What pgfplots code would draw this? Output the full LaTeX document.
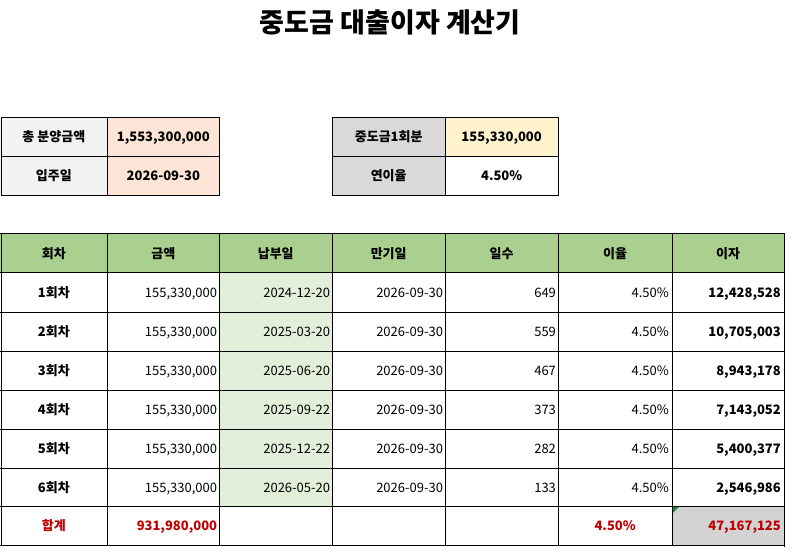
\documentclass[border=0pt]{standalone}
\usepackage{pgfplots}
\usepackage{pgfplotstable}
\pgfplotsset{compat=1.18}
\usepackage{fontspec}
\setmainfont{Noto Sans CJK KR}
\definecolor{hdr}{HTML}{A9D08E}
\definecolor{lgreen}{HTML}{E2EFDA}
\definecolor{lgray}{HTML}{F2F2F2}
\definecolor{peach}{HTML}{FCE4D6}
\definecolor{mgray}{HTML}{D9D9D9}
\definecolor{lyellow}{HTML}{FFF2CC}
\definecolor{tgray}{HTML}{D3D3D3}
\definecolor{red1}{HTML}{C00000}
\definecolor{errgreen}{HTML}{1E8C2E}
\newcommand\body{\fontsize{13}{15}\selectfont}
\pgfplotsset{
  txt/.style={draw=none, mark=none, nodes near coords, point meta=explicit symbolic,
    nodes near coords style={anchor=#1, inner sep=0pt, text height=9.5pt, text depth=0pt, font=\body, text=black}},
  thin/.style={line width=0.8pt, black},
  thick/.style={line width=2pt, black},
}
\begin{document}
\begin{tikzpicture}
\begin{axis}[scale only axis, width=792pt, height=556pt,
  xmin=0, xmax=792, ymin=0, ymax=556, y dir=reverse, hide axis, clip=false]
% bounding box
\path (axis cs:0,0) rectangle (axis cs:792,556);
% ---------- fills ----------
\fill[lgray] (axis cs:0,117) rectangle (axis cs:107,195);
\fill[peach] (axis cs:107,117) rectangle (axis cs:219,195);
\fill[mgray] (axis cs:332,117) rectangle (axis cs:445,195);
\fill[lyellow] (axis cs:445,117) rectangle (axis cs:558,156);
\fill[hdr] (axis cs:0,234) rectangle (axis cs:784,273);
\fill[lgreen] (axis cs:219,273) rectangle (axis cs:332,507);
\fill[tgray] (axis cs:672,507) rectangle (axis cs:784,546);
\fill[errgreen] (axis cs:672,507) -- (axis cs:679,507) -- (axis cs:672,514) -- cycle;
% ---------- top-left box lines ----------
\draw[thin] (axis cs:1,156) -- (axis cs:219,156);
\draw[thin] (axis cs:107,117) -- (axis cs:107,195);
\draw[thick] (axis cs:1,117) rectangle (axis cs:219,195);
% ---------- top-right box lines ----------
\draw[thin] (axis cs:332,156) -- (axis cs:558,156);
\draw[thin] (axis cs:445,117) -- (axis cs:445,195);
\draw[thick] (axis cs:332,117) rectangle (axis cs:558,195);
% ---------- main table lines ----------
\draw[thin] (axis cs:0,312) -- (axis cs:784,312);
\draw[thin] (axis cs:0,351) -- (axis cs:784,351);
\draw[thin] (axis cs:0,390) -- (axis cs:784,390);
\draw[thin] (axis cs:0,429) -- (axis cs:784,429);
\draw[thin] (axis cs:0,468) -- (axis cs:784,468);
\draw[thin] (axis cs:107,234) -- (axis cs:107,546);
\draw[thin] (axis cs:219,234) -- (axis cs:219,546);
\draw[thin] (axis cs:332,234) -- (axis cs:332,546);
\draw[thin] (axis cs:445,234) -- (axis cs:445,546);
\draw[thin] (axis cs:558,234) -- (axis cs:558,546);
\draw[thin] (axis cs:672,234) -- (axis cs:672,546);
\draw[thin] (axis cs:0.5,234) -- (axis cs:0.5,546);
\draw[thick] (axis cs:0,234) -- (axis cs:784,234);
\draw[thick] (axis cs:0,273) -- (axis cs:784,273);
\draw[thick] (axis cs:0,507) -- (axis cs:784,507);
\draw[thick] (axis cs:0,546) -- (axis cs:785,546);
\draw[thick] (axis cs:784,233) -- (axis cs:784,547);
% ---------- title ----------
\node[font=\fontsize{27}{31}\selectfont\bfseries] at (axis cs:390,22) {중도금 대출이자 계산기};
% ---------- top boxes text ----------
\addplot[txt=center, nodes near coords style={font=\body\bfseries}] table[meta=t] {
x y t
53.5 136.5 {총 분양금액}
53.5 175.5 입주일
163 136.5 1,553,300,000
163 175.5 2026-09-30
388.5 136.5 중도금1회분
388.5 175.5 연이율
501.5 136.5 155,330,000
501.5 175.5 4.50\%
};
% ---------- header ----------
\addplot[txt=center, nodes near coords style={font=\body\bfseries}] table[meta=t] {
x y t
53.5 253.5 회차
163 253.5 금액
275.5 253.5 납부일
388.5 253.5 만기일
501.5 253.5 일수
615 253.5 이율
728 253.5 이자
};
% ---------- round labels ----------
\addplot[txt=center, nodes near coords style={font=\body\bfseries}] table[meta=t] {
x y t
53.5 292.5 1회차
53.5 331.5 2회차
53.5 370.5 3회차
53.5 409.5 4회차
53.5 448.5 5회차
53.5 487.5 6회차
};
% ---------- amounts ----------
\addplot[txt=east] table[meta=t] {
x y t
217 292.5 155,330,000
217 331.5 155,330,000
217 370.5 155,330,000
217 409.5 155,330,000
217 448.5 155,330,000
217 487.5 155,330,000
};
% ---------- payment dates ----------
\addplot[txt=east] table[meta=t] {
x y t
330 292.5 2024-12-20
330 331.5 2025-03-20
330 370.5 2025-06-20
330 409.5 2025-09-22
330 448.5 2025-12-22
330 487.5 2026-05-20
};
% ---------- maturity dates ----------
\addplot[txt=east] table[meta=t] {
x y t
443 292.5 2026-09-30
443 331.5 2026-09-30
443 370.5 2026-09-30
443 409.5 2026-09-30
443 448.5 2026-09-30
443 487.5 2026-09-30
};
% ---------- days ----------
\addplot[txt=east] table[meta=t] {
x y t
556 292.5 649
556 331.5 559
556 370.5 467
556 409.5 373
556 448.5 282
556 487.5 133
};
% ---------- rates ----------
\addplot[txt=east] table[meta=t] {
x y t
669 292.5 4.50\%
669 331.5 4.50\%
669 370.5 4.50\%
669 409.5 4.50\%
669 448.5 4.50\%
669 487.5 4.50\%
};
% ---------- interest ----------
\addplot[txt=east, nodes near coords style={font=\body\bfseries}] table[meta=t] {
x y t
781 292.5 12,428,528
781 331.5 10,705,003
781 370.5 8,943,178
781 409.5 7,143,052
781 448.5 5,400,377
781 487.5 2,546,986
};
% ---------- totals ----------
\addplot[txt=center, nodes near coords style={font=\body\bfseries, text=red1}] table[meta=t] {
x y t
53.5 526.5 합계
615 526.5 4.50\%
};
\addplot[txt=east, nodes near coords style={font=\body\bfseries, text=red1}] table[meta=t] {
x y t
217 526.5 931,980,000
781 526.5 47,167,125
};
\end{axis}
\end{tikzpicture}
\end{document}
